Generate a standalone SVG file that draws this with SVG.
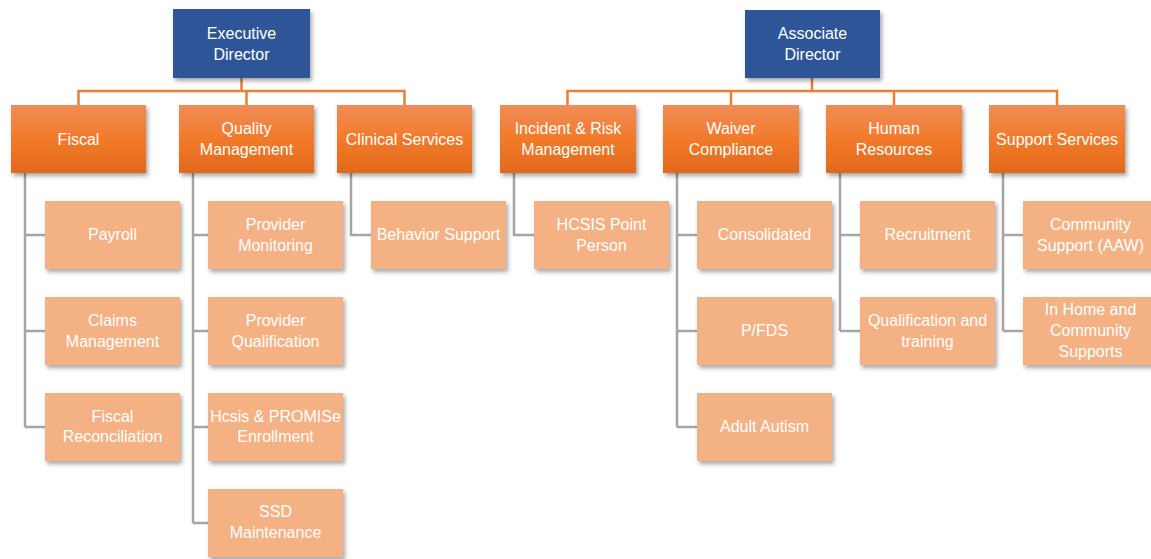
<svg xmlns="http://www.w3.org/2000/svg" width="1151" height="559" viewBox="0 0 1151 559">
<defs>
<linearGradient id="og" x1="0" y1="0" x2="0" y2="1">
<stop offset="0" stop-color="#f08d58"/>
<stop offset="0.5" stop-color="#f27a2a"/>
<stop offset="1" stop-color="#e2691b"/>
</linearGradient>
<filter id="sh" x="-10%" y="-10%" width="130%" height="140%">
<feDropShadow dx="2" dy="3" stdDeviation="2" flood-color="#000" flood-opacity="0.35"/>
</filter>
</defs>
<style>
.top{fill:#2f5597;filter:url(#sh)}
.mid{fill:url(#og);filter:url(#sh)}
.low{fill:#f4b183;filter:url(#sh)}
text{font-family:"Liberation Sans",Arial,sans-serif;font-size:16px;fill:#ffffff;text-anchor:middle}
.oc{stroke:#ed7d31;stroke-width:2.5;fill:none}
.gc{stroke:#a5a5a5;stroke-width:2.5;fill:none}
</style>
<rect width="1151" height="559" fill="#ffffff"/>
<g id="connectors">
<path class="oc" d="M241.5 78V91M78.5 105V91H404.5V105M246.5 91V105"/>
<path class="oc" d="M812 78V91M567.5 105V91H1057V105M731 91V105M894 91V105"/>
<path class="gc" d="M25 173V427M25 235H45M25 331H45M25 427H45"/>
<path class="gc" d="M193 173V523M193 235H208M193 331H208M193 427H208M193 523H208"/>
<path class="gc" d="M351 173V235H371"/>
<path class="gc" d="M514 173V235H534"/>
<path class="gc" d="M677 173V427M677 235H697M677 331H697M677 427H697"/>
<path class="gc" d="M840 173V331M840 235H860M840 331H860"/>
<path class="gc" d="M1003 173V331M1003 235H1023M1003 331H1023"/>
</g>
<g id="exec"><rect class="top" x="173" y="9" width="137" height="69"/><text x="241.5" y="39">Executive</text><text x="241.5" y="60">Director</text></g>
<g id="assoc"><rect class="top" x="745" y="10" width="135" height="68"/><text x="812.5" y="39">Associate</text><text x="812.5" y="60">Director</text></g>
<g id="fiscal"><rect class="mid" x="11" y="105" width="135" height="68"/><text x="78.5" y="145">Fiscal</text></g>
<g id="quality"><rect class="mid" x="179" y="105" width="135" height="68"/><text x="246.5" y="134">Quality</text><text x="246.5" y="155">Management</text></g>
<g id="clinical"><rect class="mid" x="337" y="105" width="135" height="68"/><text x="404.5" y="145">Clinical Services</text></g>
<g id="incident"><rect class="mid" x="500" y="105" width="136" height="68"/><text x="568" y="134">Incident &amp; Risk</text><text x="568" y="155">Management</text></g>
<g id="waiver"><rect class="mid" x="663" y="105" width="136" height="68"/><text x="731" y="134">Waiver</text><text x="731" y="155">Compliance</text></g>
<g id="hr"><rect class="mid" x="826" y="105" width="136" height="68"/><text x="894" y="134">Human</text><text x="894" y="155">Resources</text></g>
<g id="support"><rect class="mid" x="989" y="105" width="136" height="68"/><text x="1057" y="145">Support Services</text></g>
<g id="payroll"><rect class="low" x="45" y="201" width="135" height="68"/><text x="112.5" y="240">Payroll</text></g>
<g id="claims"><rect class="low" x="45" y="297" width="135" height="68"/><text x="112.5" y="326">Claims</text><text x="112.5" y="347">Management</text></g>
<g id="fiscrec"><rect class="low" x="45" y="393" width="135" height="68"/><text x="112.5" y="422">Fiscal</text><text x="112.5" y="442">Reconciliation</text></g>
<g id="provmon"><rect class="low" x="208" y="201" width="135" height="68"/><text x="275.5" y="230">Provider</text><text x="275.5" y="251">Monitoring</text></g>
<g id="provqual"><rect class="low" x="208" y="297" width="135" height="68"/><text x="275.5" y="326">Provider</text><text x="275.5" y="347">Qualification</text></g>
<g id="hcsis"><rect class="low" x="208" y="393" width="135" height="68"/><text x="275.5" y="422">Hcsis &amp; PROMISe</text><text x="275.5" y="442">Enrollment</text></g>
<g id="ssd"><rect class="low" x="208" y="489" width="135" height="68"/><text x="275.5" y="517">SSD</text><text x="275.5" y="538">Maintenance</text></g>
<g id="behavior"><rect class="low" x="371" y="201" width="135" height="68"/><text x="438.5" y="240">Behavior Support</text></g>
<g id="hcsispp"><rect class="low" x="534" y="201" width="135" height="68"/><text x="601.5" y="230">HCSIS Point</text><text x="601.5" y="251">Person</text></g>
<g id="consol"><rect class="low" x="697" y="201" width="135" height="68"/><text x="764.5" y="240">Consolidated</text></g>
<g id="pfds"><rect class="low" x="697" y="297" width="135" height="68"/><text x="764.5" y="336">P/FDS</text></g>
<g id="autism"><rect class="low" x="697" y="393" width="135" height="68"/><text x="764.5" y="432">Adult Autism</text></g>
<g id="recruit"><rect class="low" x="860" y="201" width="135" height="68"/><text x="927.5" y="240">Recruitment</text></g>
<g id="qualtrain"><rect class="low" x="860" y="297" width="135" height="68"/><text x="927.5" y="326">Qualification and</text><text x="927.5" y="347">training</text></g>
<g id="community"><rect class="low" x="1023" y="201" width="135" height="68"/><text x="1090.5" y="230">Community</text><text x="1090.5" y="251">Support (AAW)</text></g>
<g id="inhome"><rect class="low" x="1023" y="297" width="135" height="68"/><text x="1090.5" y="315">In Home and</text><text x="1090.5" y="336">Community</text><text x="1090.5" y="357">Supports</text></g>
</svg>
